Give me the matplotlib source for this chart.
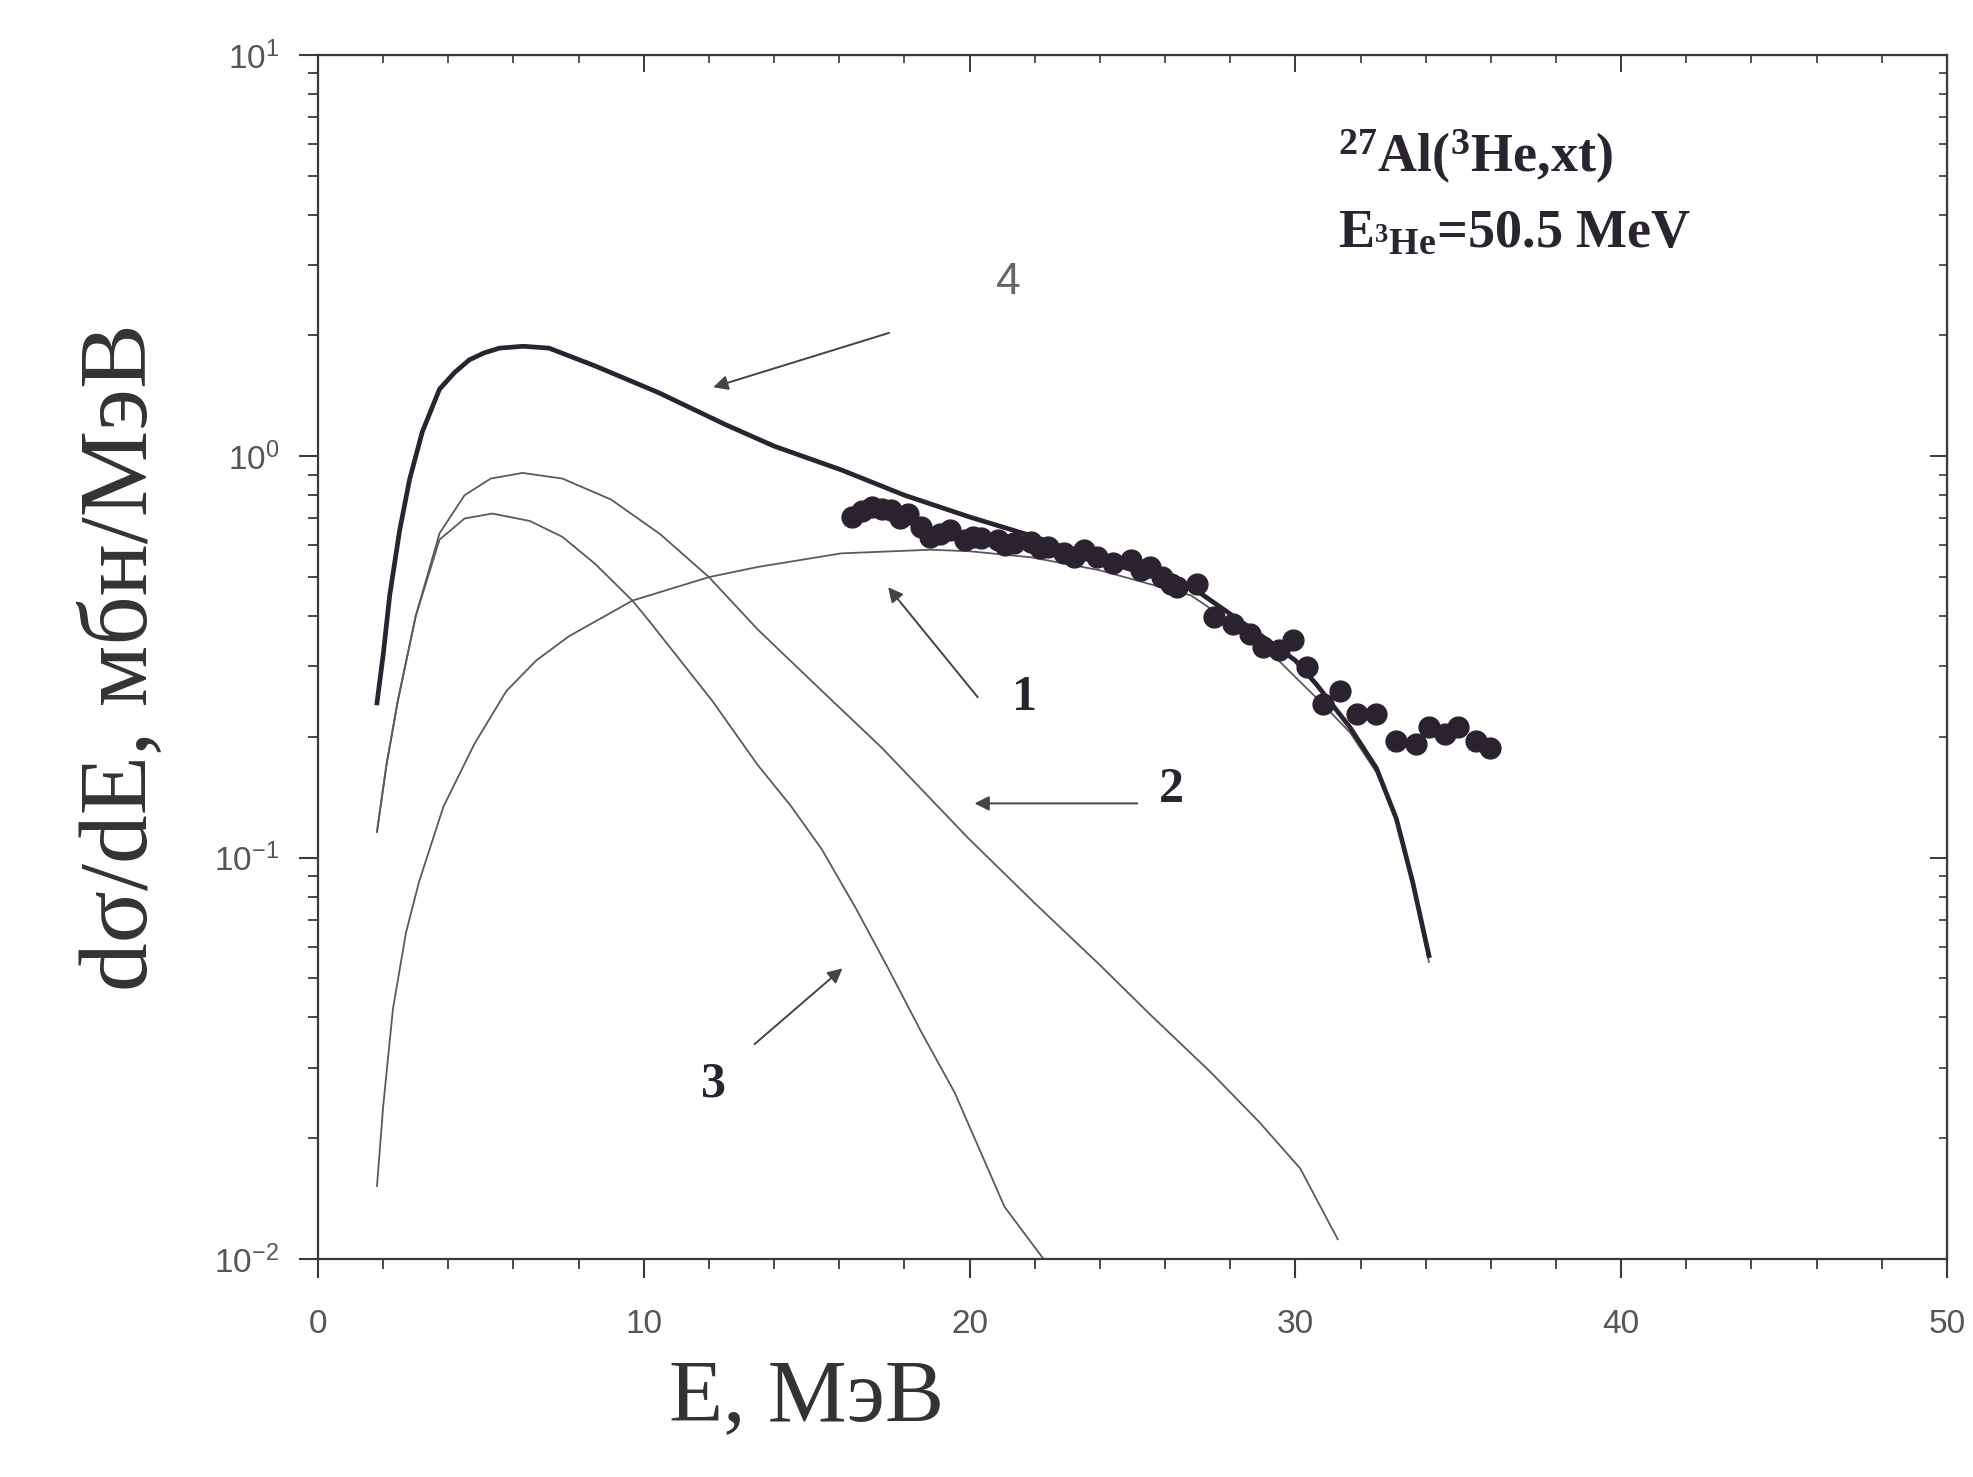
"""Recreate the 27Al(3He,xt) triton spectrum figure (log y, energy x)."""

import matplotlib

matplotlib.use("Agg")
import matplotlib.pyplot as plt
from matplotlib.ticker import FixedLocator, MultipleLocator, NullFormatter

plt.rcParams["mathtext.fontset"] = "custom"
plt.rcParams["mathtext.rm"] = "Liberation Serif:bold"
plt.rcParams["mathtext.it"] = "Liberation Serif:bold:italic"
plt.rcParams["mathtext.bf"] = "Liberation Serif:bold"
plt.rcParams["mathtext.default"] = "rm"

THICK_COLOR = "#2a2430"
THIN_COLOR = "#5a5a5a"
POINT_COLOR = "#2b2230"
TICK_COLOR = "#555555"

# curve 4: total
e_total = [1.81, 2.0, 2.2, 2.5, 2.81, 3.2, 3.73, 4.2, 4.65, 5.1, 5.57, 6.3, 7.09,
           8.5, 10.46, 12.5, 14.0, 16.06, 18.0, 20.0, 22.0, 24.0, 26.8, 28.9,
           30.0, 30.65, 31.68, 32.49, 33.1, 33.6, 34.1]
s_total = [0.243, 0.32, 0.45, 0.65, 0.875, 1.15, 1.47, 1.62, 1.74, 1.81, 1.86, 1.88,
           1.86, 1.68, 1.44, 1.2, 1.06, 0.925, 0.80, 0.706, 0.63, 0.55, 0.473, 0.36,
           0.31, 0.27, 0.211, 0.167, 0.125, 0.087, 0.057]

# curve 1
e_c1 = [1.81, 2.0, 2.3, 2.7, 3.1, 3.85, 4.8, 5.78, 6.7, 7.7, 9.65, 12.0, 13.5,
        16.06, 18.8, 20.0, 21.9, 24.0, 26.8, 28.9, 30.65, 31.68, 32.49, 33.1,
        33.6, 34.1]
s_c1 = [0.0152, 0.024, 0.042, 0.065, 0.087, 0.134, 0.192, 0.26, 0.31, 0.356, 0.437,
        0.50, 0.53, 0.573, 0.585, 0.58, 0.56, 0.52, 0.45, 0.345, 0.25, 0.205, 0.163,
        0.123, 0.085, 0.055]

# curve 2
e_c2 = [1.81, 2.1, 2.45, 3.0, 3.73, 4.5, 5.3, 6.28, 7.5, 9.0, 10.5, 12.0, 13.5,
        15.56, 17.3, 19.95, 22.0, 24.0, 25.55, 27.4, 28.9, 30.15, 31.3]
s_c2 = [0.116, 0.17, 0.246, 0.40, 0.643, 0.80, 0.88, 0.909, 0.88, 0.78, 0.64, 0.50,
        0.37, 0.256, 0.188, 0.112, 0.077, 0.054, 0.0406, 0.0292, 0.0219, 0.0168,
        0.0112]

# curve 3
e_c3 = [1.81, 2.1, 2.45, 3.0, 3.73, 4.5, 5.35, 6.5, 7.5, 8.5, 9.65, 10.15, 12.1,
        13.5, 14.5, 15.46, 16.5, 17.5, 18.5, 19.54, 21.07, 22.35]
s_c3 = [0.116, 0.17, 0.246, 0.40, 0.62, 0.70, 0.72, 0.69, 0.63, 0.54, 0.437, 0.39,
        0.246, 0.17, 0.135, 0.105, 0.075, 0.053, 0.037, 0.026, 0.0135, 0.0098]

# experimental points
e_exp = [16.38, 16.7, 17.0, 17.3, 17.6, 17.85, 18.1, 18.5, 18.8, 19.1, 19.4, 19.85,
         20.1, 20.35, 20.86, 21.1, 21.37, 21.9, 22.15, 22.4, 22.9, 23.2, 23.5,
         23.9, 24.4, 24.95, 25.25, 25.55, 25.9, 26.17, 26.37, 26.98, 27.49, 28.1,
         28.6, 29.0, 29.5, 29.94, 30.35, 30.86, 31.37, 31.88, 32.49, 33.1, 33.7,
         34.1, 34.6, 35.0, 35.55, 35.96]
s_exp = [0.707, 0.73, 0.749, 0.74, 0.734, 0.70, 0.72, 0.668, 0.63, 0.64, 0.655,
         0.618, 0.63, 0.624, 0.618, 0.60, 0.607, 0.612, 0.59, 0.595, 0.573, 0.56,
         0.584, 0.562, 0.541, 0.551, 0.52, 0.53, 0.50, 0.482, 0.472, 0.482, 0.398,
         0.383, 0.361, 0.334, 0.33, 0.348, 0.298, 0.241, 0.26, 0.228, 0.228, 0.195,
         0.192, 0.211, 0.203, 0.211, 0.195, 0.188]

y_ticks = [0.01, 0.1, 1.0, 10.0]
y_tick_labels = [r"$\mathdefault{10^{-2}}$", r"$\mathdefault{10^{-1}}$",
                 r"$\mathdefault{10^{0}}$", r"$\mathdefault{10^{1}}$"]
x_ticks = [0, 10, 20, 30, 40, 50]

# curve labels: (text, E, value)
curve_labels = [("1", 21.7, 0.25), ("2", 26.2, 0.147), ("3", 12.13, 0.0272)]
# arrows: (tail E, tail value, head E, head value)
arrows = [(17.53, 2.03, 12.13, 1.486), (20.25, 0.251, 17.5, 0.472),
          (25.15, 0.1365, 20.15, 0.1365), (13.4, 0.0343, 16.1, 0.053)]


fig = plt.figure(figsize=(19.74, 14.77), dpi=100)
ax = fig.add_axes([0.1611, 0.1476, 0.8252, 0.8152])

ax.plot(e_c1, s_c1, color=THIN_COLOR, lw=1.3)
ax.plot(e_c2, s_c2, color=THIN_COLOR, lw=1.3)
ax.plot(e_c3, s_c3, color=THIN_COLOR, lw=1.3)
ax.plot(e_exp, s_exp, "o", color=POINT_COLOR, ms=15, mec=POINT_COLOR)
ax.plot(e_total, s_total, color=THICK_COLOR, lw=3.4)

ax.set_yscale("log")
ax.set_xlim(0, 50)
ax.set_ylim(0.01, 10)

ax.xaxis.set_major_locator(FixedLocator(x_ticks))
ax.xaxis.set_minor_locator(MultipleLocator(2))
ax.yaxis.set_major_locator(FixedLocator(y_ticks))
ax.set_yticklabels(y_tick_labels)
ax.yaxis.set_minor_formatter(NullFormatter())

for side in ("left", "bottom", "right", "top"):
    ax.spines[side].set_color("#3a3a3a")
    ax.spines[side].set_linewidth(1.6)

ax.tick_params(axis="both", which="major", direction="out", length=14, width=1.5,
               colors="#3a3a3a", labelcolor=TICK_COLOR, labelsize=24)
ax.tick_params(axis="x", which="major", pad=22)
ax.tick_params(axis="y", which="major", pad=14)
ax.tick_params(axis="both", which="minor", direction="out", length=7, width=1.3,
               colors="#3a3a3a")
sec_x = ax.secondary_xaxis("top")
sec_x.xaxis.set_major_locator(FixedLocator(x_ticks))
sec_x.xaxis.set_minor_locator(MultipleLocator(2))
sec_x.tick_params(which="major", direction="in", length=12, width=1.4,
                  colors="#3a3a3a", labeltop=False)
sec_x.tick_params(which="minor", direction="in", length=6, width=1.2,
                  colors="#3a3a3a")
sec_y = ax.secondary_yaxis("right")
sec_y.set_yscale("log")
sec_y.yaxis.set_major_locator(FixedLocator(y_ticks))
sec_y.tick_params(which="major", direction="in", length=12, width=1.4,
                  colors="#3a3a3a", labelright=False)
sec_y.tick_params(which="minor", direction="in", length=6, width=1.2,
                  colors="#3a3a3a")
sec_y.yaxis.set_minor_formatter(NullFormatter())

for lab in ax.get_xticklabels() + ax.get_yticklabels():
    lab.set_family("Liberation Sans")

ax.set_xlabel("E, МэВ", family="Liberation Serif", fontsize=64, color="#333333")
ax.xaxis.set_label_coords(0.30, -0.082)
ax.set_ylabel("dσ/dE, мбн/МэВ", family="Liberation Serif", fontsize=70,
              color="#333333")
ax.yaxis.set_label_coords(-0.092, 0.5)

ax.text(0.626, 0.915, r"$^{27}$Al($^{3}$He,xt)", transform=ax.transAxes,
        fontsize=39, color="#2a2430", family="Liberation Serif",
        fontweight="bold", va="center", ha="left")
ax.text(0.626, 0.852, r"E$_{^{3}\mathrm{He}}$=50.5 MeV", transform=ax.transAxes,
        fontsize=39, color="#2a2430", family="Liberation Serif",
        fontweight="bold", va="center", ha="left")

for text, ex, sy in curve_labels:
    ax.text(ex, sy, text, fontsize=36, fontweight="bold", family="Liberation Serif",
            color="#2a2430", ha="center", va="center")
ax.text(21.2, 2.71, "4", fontsize=32, family="Liberation Sans", color="#666666",
        ha="center", va="center")

for x0, y0, x1, y1 in arrows:
    ax.annotate("", xy=(x1, y1), xytext=(x0, y0),
                arrowprops=dict(arrowstyle="-|>", color="#444444", lw=1.4,
                                mutation_scale=22, shrinkA=0, shrinkB=0))

fig.savefig("out.png", dpi=100, facecolor="white")
